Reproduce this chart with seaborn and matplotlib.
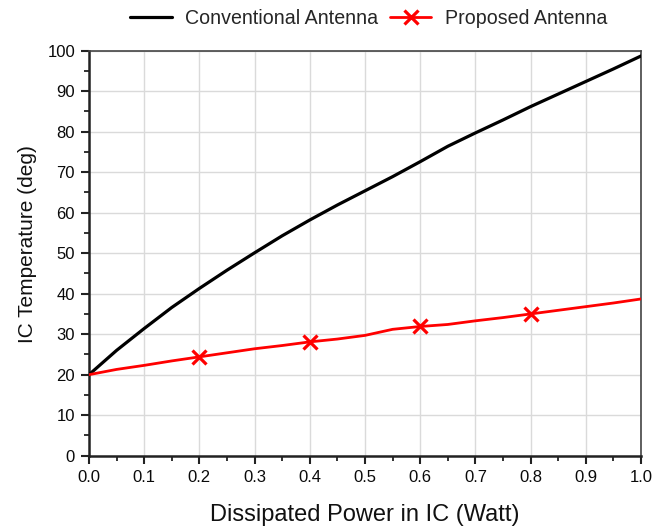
import numpy as np
import pandas as pd
import matplotlib
matplotlib.use("Agg")
import matplotlib.pyplot as plt
from matplotlib.ticker import MultipleLocator, FormatStrFormatter
from matplotlib.lines import Line2D
import seaborn as sns

power = [0.0, 0.05, 0.1, 0.15, 0.2, 0.25, 0.3, 0.35, 0.4, 0.45, 0.5,
         0.55, 0.6, 0.65, 0.7, 0.75, 0.8, 0.85, 0.9, 0.95, 1.0]
conventional = [20.0, 26.0, 31.4, 36.6, 41.3, 45.8, 50.1, 54.3, 58.2, 61.9, 65.4,
                68.9, 72.6, 76.4, 79.7, 82.9, 86.2, 89.3, 92.4, 95.5, 98.7]
proposed = [20.0, 21.3, 22.3, 23.4, 24.4, 25.4, 26.4, 27.2, 28.1, 28.8, 29.7,
            31.2, 31.9, 32.4, 33.3, 34.1, 35.0, 35.9, 36.8, 37.7, 38.7]
series_names = ["Conventional Antenna", "Proposed Antenna"]
marker_idx = [4, 8, 12, 16]

sns.set_theme(style="white")
plt.rcParams['font.family'] = ['Liberation Sans', 'DejaVu Sans']

fig = plt.figure(figsize=(6.66, 5.26), dpi=100)
ax = fig.add_axes([0.1336, 0.1337, 0.8289, 0.7699])

df = pd.DataFrame({"power": power, "conv": conventional, "prop": proposed})
sns.lineplot(data=df, x="power", y="conv", ax=ax, color="black", linewidth=2.3,
             zorder=3)
sns.lineplot(data=df, x="power", y="prop", ax=ax, color="#ff0000", linewidth=2.0,
             marker="x", markersize=10, markeredgewidth=2.3, markevery=marker_idx,
             markeredgecolor="#ff0000", zorder=3)

ax.set_xlim(0, 1.0)
ax.set_ylim(0, 100)
ax.xaxis.set_major_locator(MultipleLocator(0.1))
ax.xaxis.set_minor_locator(MultipleLocator(0.05))
ax.yaxis.set_major_locator(MultipleLocator(10))
ax.yaxis.set_minor_locator(MultipleLocator(5))
ax.xaxis.set_major_formatter(FormatStrFormatter("%.1f"))
ax.grid(True, which="major", color="#dadada", linewidth=1.0)
ax.set_axisbelow(True)

ax.tick_params(which="major", direction="out", length=6, width=1.5, color="#222222",
               labelsize=12, labelcolor="#0a0a0a", pad=4, bottom=True, left=True)
ax.tick_params(which="minor", direction="out", length=3.5, width=1.3, color="#222222",
               bottom=True, left=True)
for side in ["left", "bottom"]:
    ax.spines[side].set_linewidth(1.8)
    ax.spines[side].set_color("#222222")
for side in ["top", "right"]:
    ax.spines[side].set_linewidth(1.2)
    ax.spines[side].set_color("#444444")
    ax.spines[side].set_visible(True)

ax.set_xlabel("Dissipated Power in IC (Watt)", fontsize=17, color="#111111", labelpad=14)
ax.set_ylabel("IC Temperature (deg)", fontsize=15, color="#111111")
ax.yaxis.set_label_coords(-0.094, 0.522)

handles = [Line2D([], [], color="black", linewidth=2.3),
           Line2D([], [], color="#ff0000", linewidth=2.0, marker="x", markersize=10,
                  markeredgewidth=2.3)]
ax.legend(handles, series_names, loc="center", bbox_to_anchor=(0.507, 1.08),
          ncol=2, frameon=False, fontsize=14.1, handlelength=2.1, columnspacing=0.6,
          handletextpad=0.7, borderaxespad=0.0)

fig.savefig("out.png", dpi=100)
